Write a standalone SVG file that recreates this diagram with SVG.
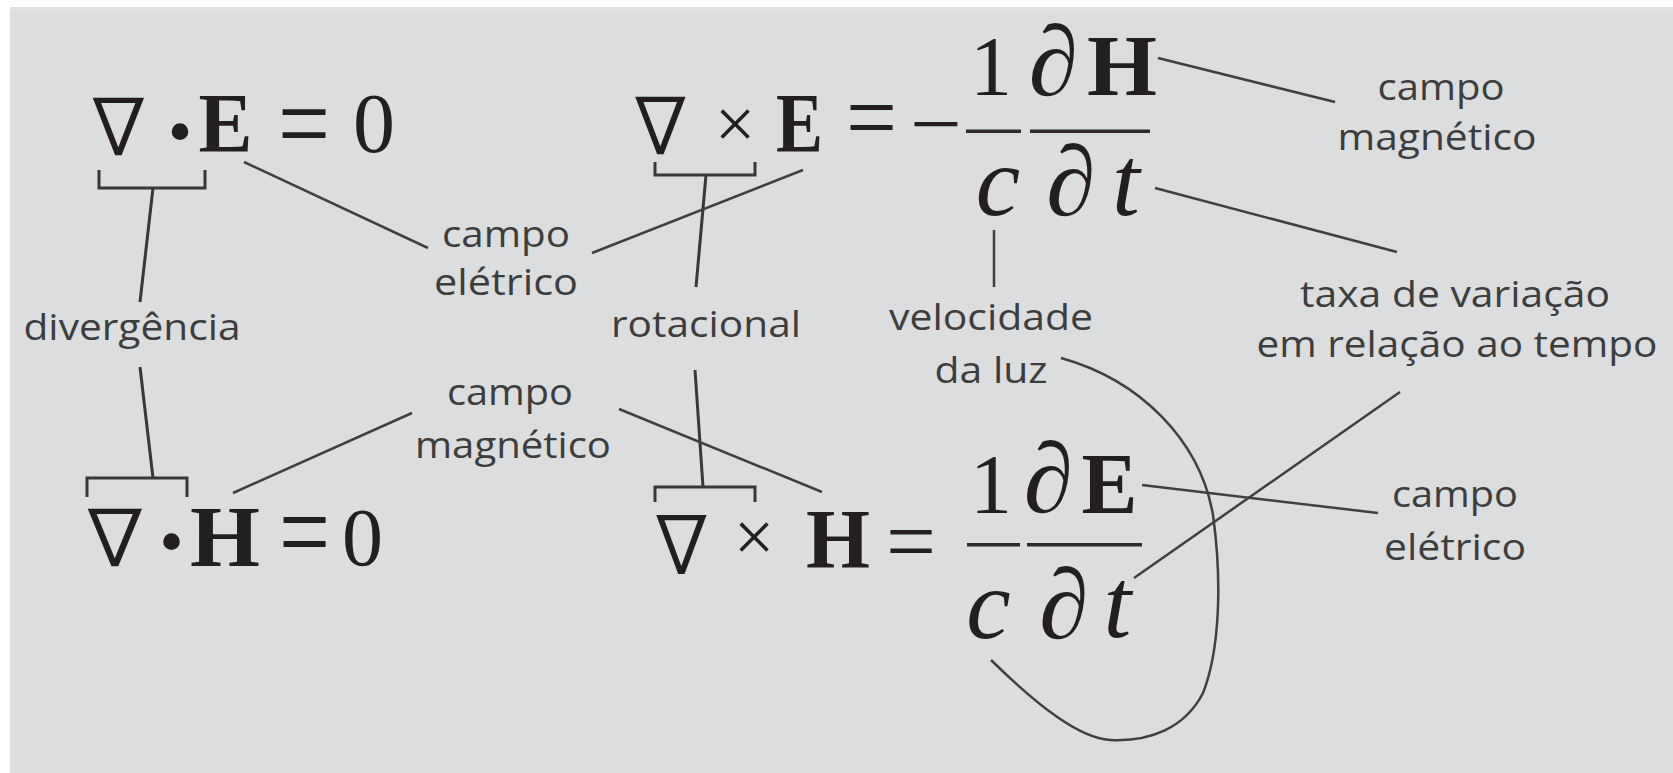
<svg xmlns="http://www.w3.org/2000/svg" width="1673" height="773" viewBox="0 0 1673 773">
<style>
.m{font-family:"Liberation Serif","Times New Roman",serif;fill:#231f20;text-anchor:middle}
.b{font-weight:bold}
.i{font-style:italic}
.nab{font-family:"DejaVu Sans","DejaVu Serif",serif;font-weight:200;fill:#231f20;stroke:#231f20;stroke-width:2.2;text-anchor:middle}
.lbl{font-family:"Open Sans","Noto Sans",sans-serif;font-size:37px;fill:#3d3d3d;text-anchor:middle}
.ln{stroke:#404040;stroke-width:2.5;fill:none}
.br{stroke:#383838;stroke-width:3;fill:none}
.bar{fill:#2e2b2c}
</style>
<rect x="0" y="0" width="1673" height="773" fill="#ffffff"/>
<rect x="10" y="7" width="1663" height="766" fill="#dcdddf"/>
<rect x="10" y="7" width="1663" height="4" fill="#e1e1e3"/>

<g id="connectors">
  <path class="br" d="M99,170 V188 H205 V170 M153,188 L140,302 M140,367 L153,478 M87,497 V478 H187 V497"/>
  <path class="br" d="M655,162 V175 H755 V162 M706,175 L696,287 M695,370 L703,487 M655,502 V487 H755 V502"/>
  <line class="ln" x1="244" y1="162" x2="428" y2="248"/>
  <line class="ln" x1="592" y1="253" x2="803" y2="170"/>
  <line class="ln" x1="412" y1="413" x2="233" y2="493"/>
  <line class="ln" x1="619" y1="409" x2="822" y2="492"/>
  <line class="ln" x1="1158" y1="58" x2="1335" y2="102"/>
  <line class="ln" x1="1155" y1="188" x2="1397" y2="252"/>
  <line class="ln" x1="994" y1="230" x2="994" y2="287"/>
  <line class="ln" x1="1400" y1="392" x2="1134" y2="578"/>
  <line class="ln" x1="1142" y1="485" x2="1378" y2="513"/>
  <path class="ln" d="M1061,358 C1140,380 1200,440 1213,515 C1222,580 1220,650 1203,693 C1185,728 1150,742 1110,740 C1080,738 1040,708 991,660"/>
</g>

<g id="eq-div-e">
  <text class="nab" x="118.5" y="154" font-size="76" textLength="53" lengthAdjust="spacingAndGlyphs">∇</text>
  <text class="m" x="180" y="155" font-size="70">•</text>
  <text class="m b" x="225.5" y="152" font-size="84" textLength="54" lengthAdjust="spacingAndGlyphs">E</text>
  <text class="m" x="304" y="162" font-size="115" textLength="52" lengthAdjust="spacingAndGlyphs">=</text>
  <text class="m" x="374" y="152" font-size="84">0</text>
</g>

<g id="eq-rot-e">
  <text class="nab" x="660.5" y="153" font-size="76" textLength="52" lengthAdjust="spacingAndGlyphs">∇</text>
  <text class="m" x="735" y="148" font-size="72">×</text>
  <text class="m b" x="799.5" y="152" font-size="84" textLength="47" lengthAdjust="spacingAndGlyphs">E</text>
  <text class="m" x="871.5" y="150.5" font-size="100" textLength="51" lengthAdjust="spacingAndGlyphs">=</text>
  <text class="m" x="936" y="152" font-size="84" textLength="52" lengthAdjust="spacingAndGlyphs">−</text>
  <rect class="bar" x="966" y="129.5" width="55" height="3.5"/>
  <rect class="bar" x="1030" y="129.5" width="120" height="3.5"/>
  <text class="m" x="991" y="95" font-size="84">1</text>
  <text class="m i" x="1053.5" y="95" font-size="100">∂</text>
  <text class="m b" x="1122" y="95" font-size="86" textLength="70" lengthAdjust="spacingAndGlyphs">H</text>
  <text class="m i" x="998" y="215" font-size="100">c</text>
  <text class="m i" x="1071" y="215" font-size="100">∂</text>
  <text class="m i" x="1126" y="215" font-size="100">t</text>
</g>

<g id="eq-div-h">
  <text class="nab" x="115" y="565" font-size="76" textLength="56" lengthAdjust="spacingAndGlyphs">∇</text>
  <text class="m" x="171.5" y="565" font-size="70">•</text>
  <text class="m b" x="225" y="566" font-size="86" textLength="70" lengthAdjust="spacingAndGlyphs">H</text>
  <text class="m" x="304.5" y="572" font-size="118" textLength="51" lengthAdjust="spacingAndGlyphs">=</text>
  <text class="m" x="362.5" y="565" font-size="82">0</text>
</g>

<g id="eq-rot-h">
  <text class="nab" x="681.5" y="573" font-size="78" textLength="52" lengthAdjust="spacingAndGlyphs">∇</text>
  <text class="m" x="754" y="561" font-size="72">×</text>
  <text class="m b" x="838" y="568" font-size="84" textLength="64" lengthAdjust="spacingAndGlyphs">H</text>
  <text class="m" x="911" y="571.5" font-size="90" textLength="50" lengthAdjust="spacingAndGlyphs">=</text>
  <rect class="bar" x="967" y="543" width="53" height="3.5"/>
  <rect class="bar" x="1027" y="543" width="115" height="3.5"/>
  <text class="m" x="991" y="513" font-size="84">1</text>
  <text class="m i" x="1048.5" y="512" font-size="100">∂</text>
  <text class="m b" x="1109.5" y="513" font-size="86" textLength="56" lengthAdjust="spacingAndGlyphs">E</text>
  <text class="m i" x="988.5" y="638" font-size="100">c</text>
  <text class="m i" x="1064" y="638" font-size="100">∂</text>
  <text class="m i" x="1117.5" y="637" font-size="100">t</text>
</g>

<g id="lbl-campo-eletrico-1">
  <text class="lbl" x="506" y="247" textLength="128" lengthAdjust="spacingAndGlyphs">campo</text>
  <text class="lbl" x="506" y="295" textLength="144" lengthAdjust="spacingAndGlyphs">elétrico</text>
</g>
<g id="lbl-divergencia">
  <text class="lbl" x="132" y="340" textLength="217" lengthAdjust="spacingAndGlyphs">divergência</text>
</g>
<g id="lbl-rotacional">
  <text class="lbl" x="706" y="337" textLength="190" lengthAdjust="spacingAndGlyphs">rotacional</text>
</g>
<g id="lbl-campo-magnetico-1">
  <text class="lbl" x="510" y="405" textLength="126" lengthAdjust="spacingAndGlyphs">campo</text>
  <text class="lbl" x="513" y="458" textLength="196" lengthAdjust="spacingAndGlyphs">magnético</text>
</g>
<g id="lbl-campo-magnetico-2">
  <text class="lbl" x="1441" y="100" textLength="127" lengthAdjust="spacingAndGlyphs">campo</text>
  <text class="lbl" x="1437" y="150" textLength="199" lengthAdjust="spacingAndGlyphs">magnético</text>
</g>
<g id="lbl-velocidade">
  <text class="lbl" x="991" y="330" textLength="204" lengthAdjust="spacingAndGlyphs">velocidade</text>
  <text class="lbl" x="991" y="383" textLength="113" lengthAdjust="spacingAndGlyphs">da luz</text>
</g>
<g id="lbl-taxa">
  <text class="lbl" x="1455" y="307" textLength="310" lengthAdjust="spacingAndGlyphs">taxa de variação</text>
  <text class="lbl" x="1457" y="357" textLength="401" lengthAdjust="spacingAndGlyphs">em relação ao tempo</text>
</g>
<g id="lbl-campo-eletrico-2">
  <text class="lbl" x="1455" y="507" textLength="126" lengthAdjust="spacingAndGlyphs">campo</text>
  <text class="lbl" x="1455" y="560" textLength="142" lengthAdjust="spacingAndGlyphs">elétrico</text>
</g>
</svg>
